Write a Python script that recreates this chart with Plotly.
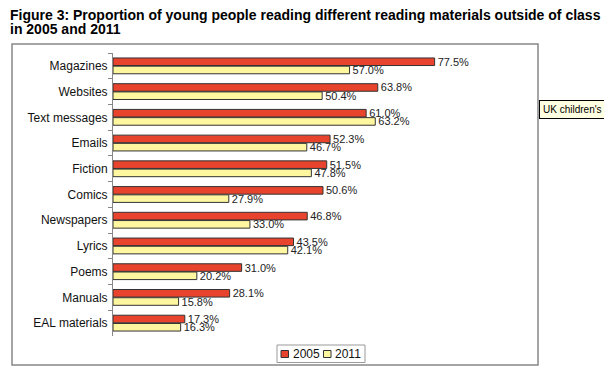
import plotly.graph_objects as go

categories = ["Magazines", "Websites", "Text messages", "Emails", "Fiction", "Comics",
              "Newspapers", "Lyrics", "Poems", "Manuals", "EAL materials"]
values_2005 = [77.5, 63.8, 61.0, 52.3, 51.5, 50.6, 46.8, 43.5, 31.0, 28.1, 17.3]
values_2011 = [57.0, 50.4, 63.2, 46.7, 47.8, 27.9, 33.0, 42.1, 20.2, 15.8, 16.3]
series_names = ["2005", "2011"]
series_colors = ["#E8432D", "#FFF6A0"]

W, H = 612, 383
OFF = 8  # page body margin offset
# plot area in screen pixels: x 113..528, y 53..336
L = 113 - OFF
T = 53 - OFF
R = W - (528 - OFF)
B = H - (336 - OFF)
pw = W - L - R
ph = H - T - B

def px_x(x):
    return (x - OFF - L) / pw

def px_y(y):
    return (H - B - (y - OFF)) / ph

FONT = "Liberation Sans, Arial, Helvetica"

fig = go.Figure()
for name, vals, col in zip(series_names, [values_2005, values_2011], series_colors):
    fig.add_trace(go.Bar(
        y=categories, x=vals, orientation="h", name=name,
        marker=dict(color=col, line=dict(color="#333333", width=1)),
        text=[f"{v:.1f}%" for v in vals], textposition="outside",
        constraintext="none",
        textfont=dict(family=FONT, size=11, color="#222222"),
        cliponaxis=False, showlegend=False,
    ))

fig.update_layout(
    width=W, height=H,
    margin=dict(l=L, r=R, t=T, b=B, autoexpand=False),
    paper_bgcolor="white", plot_bgcolor="white",
    barmode="group", bargap=0.36, bargroupgap=0.08,
    font=dict(family=FONT, size=12, color="#111111"),
    showlegend=False,
    xaxis=dict(range=[0, 100], showticklabels=False, showgrid=False, zeroline=False,
               showline=False, ticks="", automargin=False),
    yaxis=dict(autorange="reversed", showline=True, linecolor="#888888", linewidth=1,
               ticks="outside", tickson="boundaries", ticklen=4, tickcolor="#888888",
               showgrid=False, tickfont=dict(size=12, color="#111111"),
               ticklabelstandoff=2, automargin=False),
)

# outer chart frame
fig.add_shape(type="rect", xref="paper", yref="paper",
              x0=px_x(12), x1=px_x(538), y0=px_y(365), y1=px_y(44),
              line=dict(color="#888888", width=1.5), fillcolor="rgba(0,0,0,0)", layer="below")

# custom legend
fig.add_shape(type="rect", xref="paper", yref="paper",
              x0=px_x(277), x1=px_x(365), y0=px_y(362.5), y1=px_y(345),
              line=dict(color="#999999", width=1), fillcolor="white")
leg_sq_x = [281, 323.5]
leg_txt_x = [290.5, 333]
for name, col, sx, tx in zip(series_names, series_colors, leg_sq_x, leg_txt_x):
    fig.add_shape(type="rect", xref="paper", yref="paper",
                  x0=px_x(sx), x1=px_x(sx + 7.5), y0=px_y(357.5), y1=px_y(350.5),
                  line=dict(color="#333333", width=1), fillcolor=col)
    fig.add_annotation(xref="paper", yref="paper", x=px_x(tx), y=px_y(354),
                       xanchor="left", yanchor="middle", text=name, showarrow=False,
                       font=dict(family=FONT, size=12, color="#111111"))

# title (two lines, tight leading)
title_lines = ["Figure 3: Proportion of young people reading different reading materials outside of class",
               "in 2005 and 2011"]
for i, line in enumerate(title_lines):
    fig.add_annotation(xref="paper", yref="paper", x=px_x(8), y=px_y(15 + 14 * i),
                       xanchor="left", yanchor="middle", text=f"<b>{line}</b>",
                       showarrow=False, align="left",
                       font=dict(family=FONT, size=14, color="#000000"))

# tooltip fragment (cut by the window edge, as in the reference)
fig.add_annotation(xref="paper", yref="paper", x=px_x(539), y=px_y(100), xanchor="left", yanchor="top",
                   text="UK children's re", showarrow=False, align="left",
                   bgcolor="#FFFFE1", bordercolor="#000000", borderwidth=1, borderpad=3,
                   font=dict(family=FONT, size=10, color="#000000"))

fig.write_html("out.html")
